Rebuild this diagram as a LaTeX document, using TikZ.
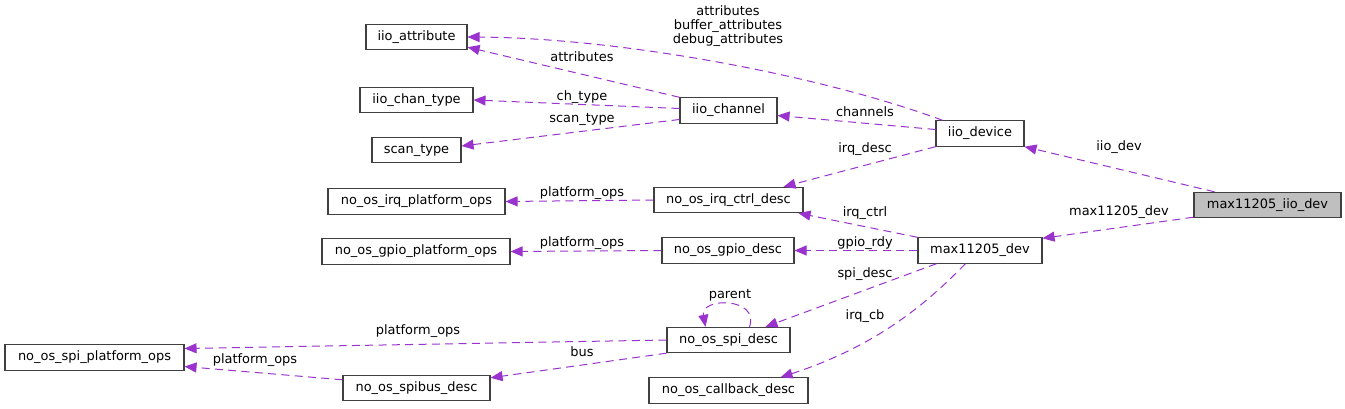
\documentclass[tikz,border=0pt]{standalone}
\usepackage{fontspec}
\setmainfont{DejaVu Sans}
\usetikzlibrary{arrows.meta,calc}
\definecolor{edgec}{HTML}{9A32CD}
\definecolor{boxc}{HTML}{404040}
\definecolor{fillg}{HTML}{BFBFBF}
\begin{document}
\begin{tikzpicture}[x=0.75pt,y=-0.75pt,
  font=\fontsize{9.7}{11.6}\selectfont,
  cls/.style={draw=boxc, line width=0.8pt, rectangle, minimum height=19pt, inner sep=0pt, anchor=center},
  ref/.style={draw=edgec, line width=0.75pt, dash pattern=on 6pt off 4pt,
     -{Triangle[length=9pt,width=7.5pt,fill=edgec]}},
  lab/.style={inner sep=0pt, anchor=center, text=black}]
\useasboundingbox (0,0) rectangle (1345,409);

% nodes
\node[cls, minimum width=75.75pt] (iioattr) at (416.5,37) {iio\_attribute};
\node[cls, minimum width=84.75pt] (iiochantype) at (416.5,100) {iio\_chan\_type};
\node[cls, minimum width=66.75pt] (scantype) at (416.5,150) {scan\_type};
\node[cls, minimum width=132.75pt] (irqplat) at (416.5,201.5) {no\_os\_irq\_platform\_ops};
\node[cls, minimum width=141pt] (gpioplat) at (416,251.5) {no\_os\_gpio\_platform\_ops};
\node[cls, minimum width=134.25pt] (spiplat) at (94.5,357.5) {no\_os\_spi\_platform\_ops};
\node[cls, minimum width=110.25pt] (spibus) at (416.5,388) {no\_os\_spibus\_desc};
\node[cls, minimum width=72.75pt] (iiochan) at (728.5,110.5) {iio\_channel};
\node[cls, minimum width=111.75pt] (irqctrl) at (728.5,200) {no\_os\_irq\_ctrl\_desc};
\node[cls, minimum width=99pt] (gpiodesc) at (728,250.5) {no\_os\_gpio\_desc};
\node[cls, minimum width=92.25pt] (spidesc) at (728.5,340) {no\_os\_spi\_desc};
\node[cls, minimum width=119.25pt] (callback) at (728.5,390.5) {no\_os\_callback\_desc};
\node[cls, minimum width=66pt] (iiodev) at (980,133.5) {iio\_device};
\node[cls, minimum width=110.25pt, fill=fillg] (maxiio) at (1267.5,205) {max11205\_iio\_dev};
\node[cls, minimum width=93pt] (maxdev) at (980,250.5) {max11205\_dev};

% edges
\draw[ref] ($(iiodev.north west)+(7,0)$) .. controls (820,75) and (620,38) .. (iioattr.east);
\draw[ref] (iiochan.north west) -- ($(iioattr.south east)+(0,-3)$);
\draw[ref] ($(iiochan.west)+(0,-2)$) -- (iiochantype.east);
\draw[ref] ($(iiochan.west)+(0,9)$) -- ($(scantype.east)+(0,-4)$);
\draw[ref] ($(iiodev.west)+(0,-4)$) -- ($(iiochan.east)+(0,5)$);
\draw[ref] (iiodev.south west) -- ($(irqctrl.north east)+(-20,0)$);
\draw[ref] ($(maxiio.north west)+(21,0)$) -- (iiodev.south east);
\draw[ref] ($(maxiio.south west)+(0,-1)$) -- ($(maxdev.north east)+(0,1)$);
\draw[ref] (irqctrl.west) -- (irqplat.east);
\draw[ref] (maxdev.north west) -- ($(irqctrl.south east)+(-5,0)$);
\draw[ref] (gpiodesc.west) -- (gpioplat.east);
\draw[ref] (maxdev.west) -- (gpiodesc.east);
\draw[ref] ($(maxdev.south west)+(19,0)$) -- ($(spidesc.north east)+(-25,0)$);
\draw[ref] ($(spidesc.north)+(21,0)$) .. controls (760,297) and (700,297) .. ($(spidesc.north)+(-23,0)$);
\draw[ref] (spidesc.west) -- ($(spiplat.east)+(0,-9)$);
\draw[ref] (spidesc.south west) -- ($(spibus.north east)+(0,3)$);
\draw[ref] ($(spibus.north west)+(0,5)$) -- ($(spiplat.east)+(0,9)$);
\draw[ref] ($(maxdev.south west)+(48,0)$) .. controls (930,300) and (880,345) .. ($(callback.north east)+(-28,0)$);

% labels
\node[lab, align=center, font=\fontsize{9.7}{10.5}\selectfont] (l1) at (728,26) {attributes\\buffer\_attributes\\debug\_attributes};
\node[lab] (l2) at (582,57) {attributes};
\node[lab] (l3) at (582,97) {ch\_type};
\node[lab] (l4) at (582,119) {scan\_type};
\node[lab] (l5) at (865,112) {channels};
\node[lab] (l6) at (865,149) {irq\_desc};
\node[lab] (l7) at (1119,147) {iio\_dev};
\node[lab] (l8) at (1119,212) {max11205\_dev};
\node[lab] (l9) at (582,193) {platform\_ops};
\node[lab] (l10) at (865,213) {irq\_ctrl};
\node[lab] (l11) at (582,243) {platform\_ops};
\node[lab] (l12) at (865,243) {gpio\_rdy};
\node[lab] (l13) at (865,274) {spi\_desc};
\node[lab] (l14) at (730,295) {parent};
\node[lab] (l15) at (865,316) {irq\_cb};
\node[lab] (l16) at (418,331) {platform\_ops};
\node[lab] (l17) at (255,360) {platform\_ops};
\node[lab] (l18) at (582,352) {bus};
\end{tikzpicture}
\end{document}
